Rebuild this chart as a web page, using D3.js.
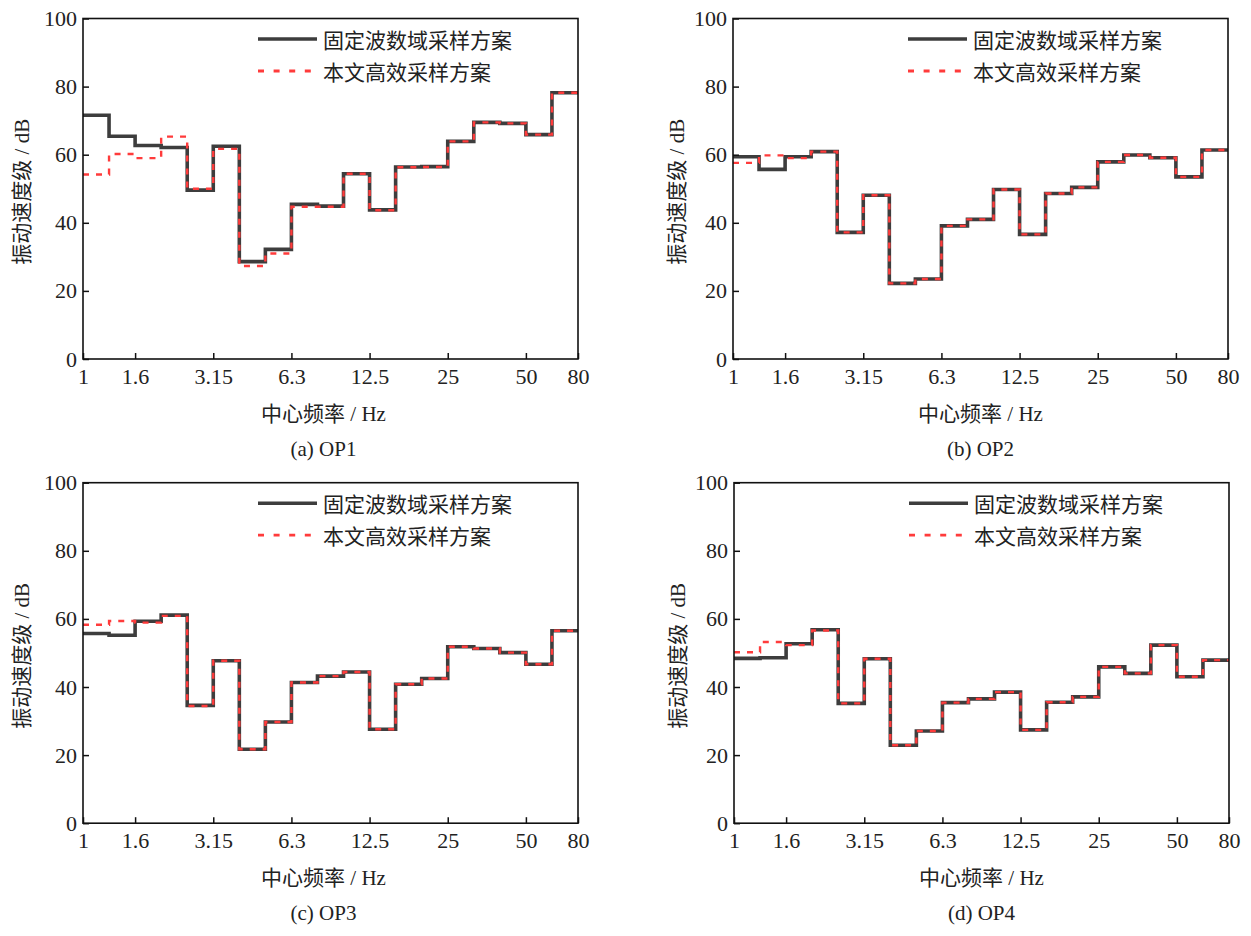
<!DOCTYPE html>
<html>
<head>
<meta charset="utf-8">
<script src="https://cdn.jsdelivr.net/npm/d3@7"></script>
<style>
  body { margin: 0; background: #fff; }
  svg text { font-family: "Liberation Serif", "Noto Sans CJK SC", serif; fill: #222; }
</style>
</head>
<body>
<svg id="chart" width="1251" height="936"></svg>
<script>
// one-third octave band centres (Hz); each value covers its band up to the next centre
const bands = [1, 1.25, 1.6, 2, 2.5, 3.15, 4, 5, 6.3, 8, 10, 12.5, 16, 20, 25, 31.5, 40, 50, 63, 80];
const tickBands = [1, 1.6, 3.15, 6.3, 12.5, 25, 50, 80];
const yTicks = [0, 20, 40, 60, 80, 100];
const seriesNames = ["固定波数域采样方案", "本文高效采样方案"];
const panelTitles = ["(a) OP1", "(b) OP2", "(c) OP3", "(d) OP4"];

// OP1
const op1Fixed = [71.6, 65.4, 62.7, 62.1, 49.6, 62.5, 28.6, 32.2, 45.4, 44.9, 54.4, 43.8, 56.4, 56.5, 63.9, 69.5, 69.2, 65.9, 78.2];
const op1Eff   = [54.2, 60.2, 59.0, 65.3, 50.0, 61.7, 27.3, 31.0, 44.7, 44.7, 54.4, 43.7, 56.3, 56.4, 63.9, 69.5, 69.2, 65.9, 78.2];
// OP2
const op2Fixed = [59.4, 55.7, 59.4, 60.9, 37.2, 48.1, 22.2, 23.5, 39.1, 41.0, 49.8, 36.6, 48.6, 50.4, 57.9, 59.9, 59.1, 53.5, 61.4];
const op2Eff   = [57.6, 59.8, 59.0, 60.9, 37.2, 48.1, 22.2, 23.5, 39.1, 41.0, 49.8, 36.6, 48.6, 50.4, 57.9, 59.9, 59.1, 53.5, 61.4];
// OP3
const op3Fixed = [55.7, 55.2, 59.3, 61.1, 34.6, 47.7, 21.7, 29.7, 41.3, 43.2, 44.4, 27.6, 40.8, 42.5, 51.8, 51.3, 50.1, 46.7, 56.5];
const op3Eff   = [58.3, 59.4, 58.9, 60.9, 34.4, 47.7, 21.7, 29.7, 41.3, 43.2, 44.4, 27.6, 40.8, 42.5, 51.8, 51.3, 50.1, 46.7, 56.5];
// OP4
const op4Fixed = [48.4, 48.6, 52.7, 56.8, 35.2, 48.3, 22.9, 27.1, 35.4, 36.5, 38.5, 27.4, 35.5, 37.1, 45.9, 44.0, 52.3, 43.0, 47.9];
const op4Eff   = [50.2, 53.2, 52.3, 56.6, 35.2, 48.3, 22.9, 27.1, 35.4, 36.5, 38.5, 27.4, 35.5, 37.1, 45.9, 44.0, 52.3, 43.0, 47.9];

const panels = [
  {title: panelTitles[0], fixed: op1Fixed, eff: op1Eff, left: 83,  top: 18.5,  titleDx: -7, yTitleDx: -61},
  {title: panelTitles[1], fixed: op2Fixed, eff: op2Eff, left: 733, top: 18.5,  titleDx: 0,  yTitleDx: -56},
  {title: panelTitles[2], fixed: op3Fixed, eff: op3Eff, left: 83,  top: 482.7, titleDx: -7, yTitleDx: -61},
  {title: panelTitles[3], fixed: op4Fixed, eff: op4Eff, left: 734, top: 482.7, titleDx: 0,  yTitleDx: -56}
];

const plotW = 495, plotH = 340.5;
const blackCol = "#3d3d3d", redCol = "#ff3b3b";
const svg = d3.select("#chart");

function stepPoints(vals){
  // add the closing point at 80 Hz so the last band is drawn
  const pts = vals.map((v, i) => [bands[i], v]);
  pts.push([bands[bands.length - 1], vals[vals.length - 1]]);
  return pts;
}

panels.forEach(p => {
  const g = svg.append("g").attr("transform", "translate(" + p.left + "," + p.top + ")");
  const x = d3.scalePoint().domain(bands).range([0, plotW]);
  const y = d3.scaleLinear().domain([0, 100]).range([plotH, 0]);

  const line = d3.line()
    .x(d => x(d[0]))
    .y(d => y(d[1]))
    .curve(d3.curveStepAfter);

  g.append("path")
    .datum(stepPoints(p.fixed))
    .attr("d", line)
    .attr("fill", "none")
    .attr("stroke", blackCol)
    .attr("stroke-width", 3.6);

  g.append("path")
    .datum(stepPoints(p.eff))
    .attr("d", line)
    .attr("fill", "none")
    .attr("stroke", redCol)
    .attr("stroke-width", 2.4)
    .attr("stroke-dasharray", "6,7");

  // axes with inward ticks
  const xAxis = g.append("g").attr("transform", "translate(0," + plotH + ")")
    .call(d3.axisBottom(x).tickValues(tickBands).tickSizeInner(-6).tickSizeOuter(0).tickPadding(9).tickFormat(d => String(d)));
  xAxis.selectAll("text").attr("font-size", 22).attr("dy", "0.71em");

  const yAxis = g.append("g")
    .call(d3.axisLeft(y).tickValues(yTicks).tickSizeInner(-6).tickSizeOuter(0).tickPadding(6));
  yAxis.selectAll("text").attr("font-size", 22);

  [xAxis, yAxis].forEach(a => {
    a.select(".domain").remove();
    a.selectAll("line").attr("stroke", "#111").attr("stroke-width", 1.5);
    a.selectAll("text").style("fill", "#222");
  });

  g.append("rect")
    .attr("width", plotW).attr("height", plotH)
    .attr("fill", "none").attr("stroke", "#111").attr("stroke-width", 1.6);

  // legend
  const leg = g.append("g").attr("transform", "translate(175,20.5)");
  seriesNames.forEach((name, i) => {
    const row = leg.append("g").attr("transform", "translate(0," + (i * 32) + ")");
    row.append("line")
      .attr("x1", 0).attr("x2", 59).attr("y1", 0).attr("y2", 0)
      .attr("stroke", i === 0 ? blackCol : redCol)
      .attr("stroke-width", i === 0 ? 3.6 : 2.8)
      .attr("stroke-dasharray", i === 0 ? null : "6,9.6");
    row.append("text")
      .attr("x", 65).attr("y", 2)
      .attr("dominant-baseline", "central")
      .attr("font-size", 21)
      .text(name);
  });

  // axis titles and panel caption
  g.append("text")
    .attr("transform", "translate(" + p.yTitleDx + "," + (plotH / 2 + 3) + ") rotate(-90)")
    .attr("text-anchor", "middle")
    .attr("dominant-baseline", "central")
    .attr("font-size", 21)
    .text("振动速度级 / dB");

  g.append("text")
    .attr("x", plotW / 2 + p.titleDx).attr("y", plotH + 62)
    .attr("text-anchor", "middle")
    .attr("font-size", 21)
    .text("中心频率 / Hz");

  g.append("text")
    .attr("x", plotW / 2 + p.titleDx).attr("y", plotH + 97)
    .attr("text-anchor", "middle")
    .attr("font-size", 21)
    .text(p.title);
});
</script>
</body>
</html>
